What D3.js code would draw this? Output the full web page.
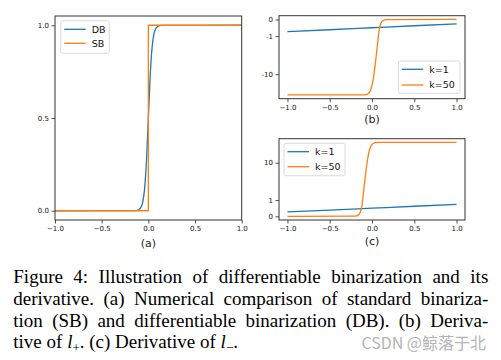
<!DOCTYPE html>
<html>
<head>
<meta charset="utf-8">
<script src="https://cdn.jsdelivr.net/npm/d3@7"></script>
<style>
  html, body { margin: 0; padding: 0; background: #fff; }
  svg { display: block; }
</style>
</head>
<body>
<svg id="chart" width="501" height="360"></svg>
<script>
// ---------------- data ----------------
const xTicks = [-1, -0.5, 0, 0.5, 1];
const aYTicks = [0, 0.5, 1];
const bYTicks = [0, -1, -10];
const bYLabels = ["0", "-1", "-10"];
const cYTicks = [0, 1, 10];
const cYLabels = ["0", "1", "10"];

const aSeriesNames = ["DB", "SB"];
const bcSeriesNames = ["k=1", "k=50"];

// (a) differentiable vs standard binarization
const dbX = [-1, -0.14, -0.12, -0.1, -0.08, -0.06, -0.04, -0.02, 0, 0.02, 0.04, 0.06, 0.08, 0.1, 0.12, 0.14, 1];
const dbY = [0, 0.001, 0.002, 0.007, 0.018, 0.047, 0.119, 0.269, 0.5, 0.731, 0.881, 0.953, 0.982, 0.993, 0.998, 0.999, 1];
const sbX = [-1, 0, 0, 1];
const sbY = [0, 0, 1, 1];

// (b) derivative of l+
const bK1X = [-1, -0.5, 0, 0.5, 1];
const bK1Y = [-0.73, -0.62, -0.5, -0.38, -0.27];
const bK50X = [-1, -0.115, -0.075, -0.055, -0.035, -0.015, 0.005, 0.025, 0.045, 0.065, 0.085, 0.105, 0.125, 0.165, 1];
const bK50Y = [-35, -34.9, -34.4, -33.3, -30.8, -25.6, -17.5, -9.4, -4.17, -1.66, -0.63, -0.23, -0.09, -0.012, 0];

// (c) derivative of l-
const cK1X = [-1, -0.5, 0, 0.5, 1];
const cK1Y = [0.27, 0.38, 0.5, 0.62, 0.73];
const cK50X = [-1, -0.2, -0.16, -0.14, -0.12, -0.1, -0.08, -0.06, -0.04, -0.02, 0, 0.02, 0.04, 0.08, 1];
const cK50Y = [0, 0.012, 0.087, 0.235, 0.63, 1.66, 4.17, 9.4, 17.5, 25.6, 30.8, 33.3, 34.4, 34.9, 35];

const captionLines = [
  "Figure 4: Illustration of differentiable binarization and its",
  "derivative. (a) Numerical comparison of standard binariza-",
  "tion (SB) and differentiable binarization (DB). (b) Deriva-"
];

// ---------------- style ----------------
const BLUE = "#1f77b4", ORANGE = "#ff7f0e";
const TICK_FONT = "DejaVu Sans";
const svg = d3.select("#chart");
svg.append("rect").attr("width", 501).attr("height", 360).attr("fill", "#fff");

const zip = (xs, ys) => xs.map((x, i) => [x, ys[i]]);
// smooth symmetric log transform (linear within |v|<=1)
const symT = v => Math.abs(v) <= 1 ? v : Math.sign(v) * (1 + Math.log(Math.abs(v)));

function panel(opt) {
  const g = svg.append("g");
  const {x0, x1, y0, y1} = opt;
  const x = d3.scaleLinear().domain(opt.xDomain).range([x0, x1]);
  const yLin = d3.scaleLinear().domain(opt.yDomain).range([y1, y0]);
  const tf = opt.transform || (v => v);
  const y = v => yLin(tf(v));

  opt.series.forEach(s => {
    const line = d3.line().x(d => x(d[0])).y(d => y(d[1]))
      .curve(s.curve || d3.curveMonotoneX);
    g.append("path").datum(zip(s.xs, s.ys))
      .attr("d", line).attr("fill", "none")
      .attr("stroke", s.color).attr("stroke-width", 1.3)
      .attr("stroke-linejoin", "round");
  });

  const xa = g.append("g").attr("transform", `translate(0,${y1})`)
    .call(d3.axisBottom(x).tickValues(xTicks).tickSize(3.5).tickPadding(2.5)
      .tickFormat(d3.format(".1f")));
  const ya = g.append("g").attr("transform", `translate(${x0},0)`)
    .call(d3.axisLeft(yLin).tickValues(opt.yTicks.map(tf)).tickSize(3.5).tickPadding(2.5)
      .tickFormat((d, i) => opt.yLabels[i]));
  [xa, ya].forEach(a => {
    a.select(".domain").remove();
    a.selectAll("line").attr("stroke", "#222").attr("stroke-width", 0.8);
    a.selectAll("text").attr("font-family", TICK_FONT).attr("font-size", 7).attr("fill", "#111");
  });

  g.append("rect").attr("x", x0).attr("y", y0).attr("width", x1 - x0).attr("height", y1 - y0)
    .attr("fill", "none").attr("stroke", "#333").attr("stroke-width", 1);

  const L = opt.legend;
  const lg = g.append("g");
  lg.append("rect").attr("x", L.x).attr("y", L.y).attr("width", L.w).attr("height", L.h)
    .attr("rx", 2).attr("fill", "#fff").attr("fill-opacity", 0.8)
    .attr("stroke", "#d0d0d0").attr("stroke-width", 0.8);
  opt.series.forEach((s, i) => {
    const yy = L.y + L.first + i * L.step;
    lg.append("line").attr("x1", L.x + 3.5).attr("x2", L.x + 25).attr("y1", yy).attr("y2", yy)
      .attr("stroke", s.color).attr("stroke-width", 1.3);
    lg.append("text").attr("x", L.x + 31).attr("y", yy).attr("dy", "0.36em")
      .attr("font-family", TICK_FONT).attr("font-size", 9.5).attr("fill", "#111")
      .text(s.name);
  });

  g.append("text").attr("x", (x0 + x1) / 2).attr("y", opt.labelY)
    .attr("text-anchor", "middle").attr("font-family", TICK_FONT).attr("font-size", 11)
    .attr("fill", "#222").text(opt.label);
}

// (a)
panel({
  x0: 55, x1: 241.7, y0: 16, y1: 220,
  xDomain: [-1, 1], yDomain: [-0.05, 1.05],
  yTicks: aYTicks, yLabels: aYTicks.map(d3.format(".1f")),
  series: [
    {name: aSeriesNames[0], xs: dbX, ys: dbY, color: BLUE},
    {name: aSeriesNames[1], xs: sbX, ys: sbY, color: ORANGE, curve: d3.curveLinear}
  ],
  legend: {x: 60.7, y: 20.7, w: 48.6, h: 32.6, first: 8.6, step: 14},
  label: "(a)", labelY: 246.5
});

function tDomain(allY) {
  const ts = allY.map(symT);
  const lo = d3.min(ts), hi = d3.max(ts), pad = (hi - lo) * 0.05;
  return [lo - pad, hi + pad];
}

// (b)
panel({
  x0: 279, x1: 465, y0: 15.7, y1: 98.7,
  xDomain: [-1.1, 1.1], yDomain: tDomain(bK1Y.concat(bK50Y)),
  transform: symT,
  yTicks: bYTicks, yLabels: bYLabels,
  series: [
    {name: bcSeriesNames[0], xs: bK1X, ys: bK1Y, color: BLUE},
    {name: bcSeriesNames[1], xs: bK50X, ys: bK50Y, color: ORANGE}
  ],
  legend: {x: 398.3, y: 61, w: 61.7, h: 32.3, first: 8.3, step: 15.7},
  label: "(b)", labelY: 122.7
});

// (c)
panel({
  x0: 279, x1: 465, y0: 138.7, y1: 220,
  xDomain: [-1.1, 1.1], yDomain: tDomain(cK1Y.concat(cK50Y)),
  transform: symT,
  yTicks: cYTicks, yLabels: cYLabels,
  series: [
    {name: bcSeriesNames[0], xs: cK1X, ys: cK1Y, color: BLUE},
    {name: bcSeriesNames[1], xs: cK50X, ys: cK50Y, color: ORANGE}
  ],
  legend: {x: 284, y: 143.3, w: 61, h: 32.4, first: 8.4, step: 15},
  label: "(c)", labelY: 245
});

// ---------------- caption (justified via word-spacing) ----------------
const CAP_FONT = "Liberation Serif";
const capLeft = 13.3, capRight = 488.3, capBase = 283.3, capStep = 21.7;
const cap = svg.append("g").attr("font-family", CAP_FONT).attr("font-size", 19).attr("fill", "#000");

captionLines.forEach((line, li) => {
  const t = cap.append("text").attr("x", capLeft).attr("y", capBase + li * capStep)
    .attr("xml:space", "preserve").text(line);
  const natural = t.node().getComputedTextLength();
  const nSpaces = line.split(" ").length - 1;
  const extra = (capRight - capLeft - natural) / nSpaces;
  t.style("word-spacing", extra + "px");
});

const last = cap.append("text").attr("x", capLeft).attr("y", capBase + 3 * capStep)
  .attr("xml:space", "preserve");
last.append("tspan").text("tive of ");
last.append("tspan").attr("font-style", "italic").text("l");
last.append("tspan").attr("font-size", 13).attr("dy", 4).text("+");
last.append("tspan").attr("dy", -4).text(". (c) Derivative of ");
last.append("tspan").attr("font-style", "italic").text("l");
last.append("tspan").attr("font-size", 13).attr("dy", 4).text("\u2212");
last.append("tspan").attr("dy", -4).text(".");

// watermark
svg.append("text").attr("x", 486).attr("y", 348.5).attr("text-anchor", "end")
  .attr("font-family", "Noto Sans CJK SC, Noto Sans, sans-serif").attr("font-size", 16)
  .attr("fill", "#b4b4b4").text("CSDN @鲸落于北");
</script>
</body>
</html>
